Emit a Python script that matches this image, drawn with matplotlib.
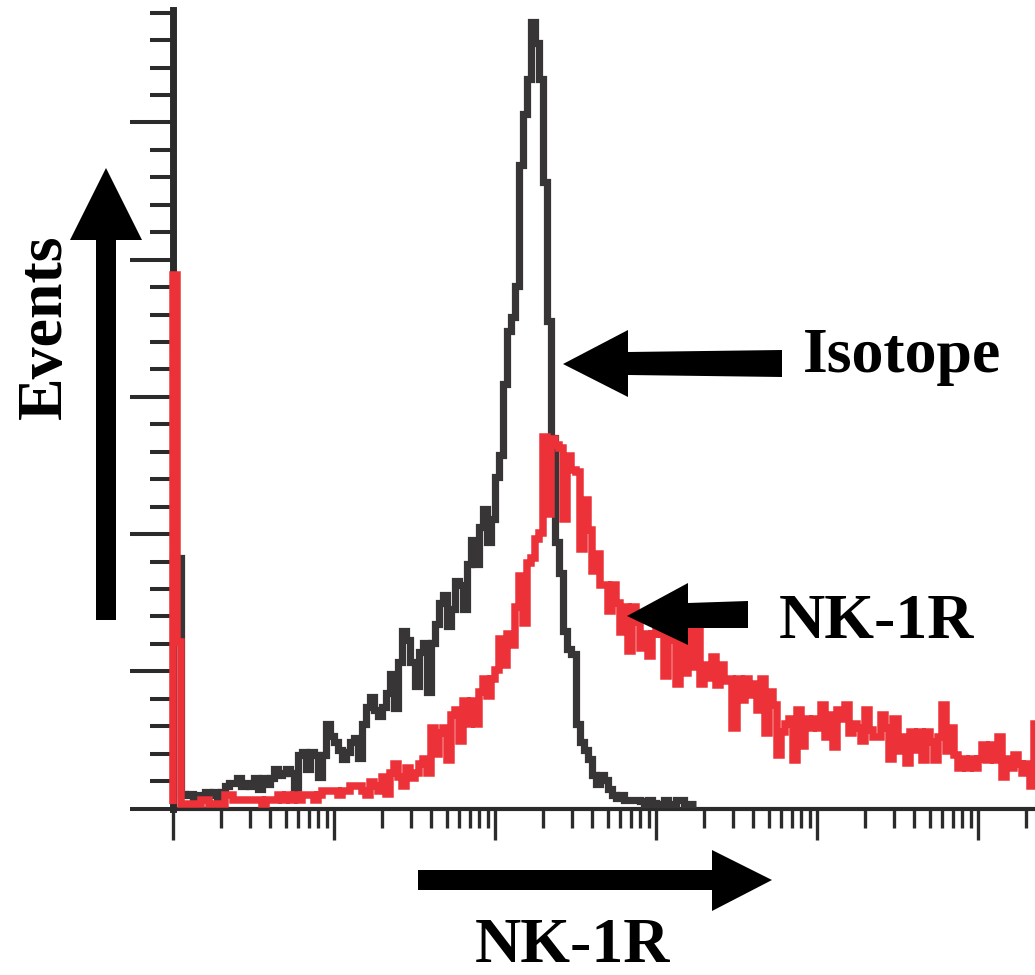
import numpy as np
import matplotlib
matplotlib.use("Agg")
import matplotlib.pyplot as plt
from matplotlib.ticker import LogLocator, MultipleLocator, NullFormatter
from matplotlib.patches import Polygon

# ---------------- data (events per channel, 40 channels per decade) ----------------
bins_per_decade = 40

isotype_counts = [
    90, 90, 4, 3.3, 4, 1.5, 3.3, 3.3, 4.7, 3.3,
    4.7, 2.2, 4.7, 6.6, 8, 8, 9.8, 6.6, 8, 6.6,
    9.8, 5.5, 9.8, 7.3, 9.8, 13.1, 10.9, 11.3, 13.1, 11.3,
    5.1, 17.9, 19.3, 13.1, 19.3, 17.9, 10.2, 18.2, 29.2, 24.8,
    22.6, 20, 16.4, 19.3, 22.6, 24.4, 17.1, 29.2, 35.7, 39,
    34.3, 32.4, 35.7, 40.8, 47.4, 35, 52.1, 63.4, 60.1, 52.1,
    43, 55.4, 58.7, 41, 58.7, 65.6, 73.3, 76.5, 64.9, 71.4,
    81.6, 79.8, 71.4, 87.8, 96.2, 87.5, 101, 107.5, 95.5, 104.2,
    119.2, 127.2, 153.4, 172.7, 177.8, 189.1, 233.2, 251.5, 264.2, 285.3,
    277.3, 264.2, 226.7, 176, 133.7, 95.5, 84.5, 63.4, 56.5, 54.7,
    29.2, 22.6, 19.7, 16.4, 10.6, 7.3, 10.6, 9.1, 5.5, 3.3,
    2.2, 3.3, 1.5, 1.5, 1.5, 1.5, 1.1, 0, 1.8, 0.7,
    0, 0, 1.8, 0, 0, 1.8, 1.5, 0, 0, 0,
]

nk1r_counts = [
    193, 59.2, 0, 0, 0, 0, 0, 1.8, 1.8, 0,
    0, 0, 0, 3.5, 3.5, 1.8, 1.8, 1.8, 1.8, 1.8,
    1.8, 1.8, 0, 1.8, 1.8, 1.8, 3.5, 1.8, 3.5, 1.8,
    3.5, 1.8, 3.5, 3.5, 3.5, 1.8, 3.5, 4.9, 4.9, 4.9,
    4.9, 3.5, 4.9, 4.9, 6.7, 6.7, 6.7, 4.9, 3.5, 8.2,
    6.7, 4.9, 10, 4, 11.5, 14.8, 10, 6.7, 13.3, 9.7,
    11.5, 14.8, 16.6, 11.5, 27.9, 18.4, 26, 27.9, 16.2, 32.6,
    34.4, 23, 37.7, 29.3, 37.7, 29.3, 41, 45.7, 39.5, 45.7,
    49, 60.3, 51, 62, 58, 72, 83.3, 66, 88, 89.8,
    96.8, 98.9, 134, 106, 133, 131, 130, 104, 127, 122,
    121, 93, 111, 100, 85, 91.3, 80, 80, 70.5, 80,
    73.4, 63, 72, 56, 72, 66.5, 57, 62, 54, 62,
    66, 62, 47, 61, 60, 44, 60, 48, 64.7, 50,
    63.6, 44, 50.8, 46, 53.8, 43.5, 50.8, 45, 45.7, 27.9,
    45.7, 38, 45.7, 40, 44, 34.4, 45.7, 26, 41, 36.3,
    18, 26.4, 29.3, 31.2, 16.2, 34.4, 21.3, 31.2, 27.9, 31.2,
    28, 36.3, 24.6, 32.6, 21, 34.4, 31.2, 36.3, 26, 29.3,
    27.9, 23, 34.4, 27, 24.6, 24.6, 32.6, 27.9, 16.6, 31.2,
    19.5, 24.6, 15.1, 26.4, 20, 26.4, 16.2, 26.4, 22.8, 16.2,
    24.6, 36.3, 19.5, 27.9, 18, 13.3, 16.6, 13.3, 16.6, 13.3,
    16.6, 21.7, 16.2, 21.7, 16.2, 24.6, 10, 16.6, 13.3, 18,
    14.8, 11.5, 14.8, 6.7, 29.3,
]

x_label = "NK-1R"
y_label = "Events"
isotype_label = "Isotope"
nk1r_label = "NK-1R"

# ---------------- style ----------------
DARK = "#373535"
RED = "#ec3238"
AXIS = "#2b2b2b"
W, H = 1035, 975
FONT = dict(family=["Liberation Serif", "DejaVu Serif"], weight="bold", size=46, color="black")

fig = plt.figure(figsize=(W / 100, H / 100), dpi=100)
fig.patch.set_facecolor("white")
ax = fig.add_axes([173 / W, (H - 808.5) / H, (W - 173) / W, 798.5 / H])
ax.set_facecolor("none")

edges = 10 ** (np.arange(len(nk1r_counts) + 1) / bins_per_decade)
ax.stairs(isotype_counts, edges[: len(isotype_counts) + 1], baseline=0,
          edgecolor=DARK, linewidth=5.2, zorder=3, clip_on=False, joinstyle="miter")
ax.stairs(nk1r_counts, edges, baseline=0,
          edgecolor=RED, linewidth=5.4, zorder=4, clip_on=False, joinstyle="miter")

# axes
ax.set_xscale("log")
ax.set_xlim(1, 10 ** (862 / 161))
y0 = -1.46
ax.set_ylim(y0, 289.5)

ax.xaxis.set_major_locator(LogLocator(base=10, numticks=20))
ax.xaxis.set_minor_locator(LogLocator(base=10, subs=np.arange(2, 10), numticks=20))
ax.xaxis.set_major_formatter(NullFormatter())
ax.xaxis.set_minor_formatter(NullFormatter())
ax.yaxis.set_major_locator(MultipleLocator(50, offset=y0))
ax.yaxis.set_minor_locator(MultipleLocator(10, offset=y0))
ax.yaxis.set_major_formatter(NullFormatter())
ax.yaxis.set_minor_formatter(NullFormatter())

ax.tick_params(axis="x", which="major", length=22, width=2.4, color=AXIS, direction="out")
ax.tick_params(axis="x", which="minor", length=14, width=2.4, color=AXIS, direction="out")
ax.tick_params(axis="y", which="major", length=31.3, width=2.9, color=AXIS, direction="out")
ax.tick_params(axis="y", which="minor", length=16.9, width=2.9, color=AXIS, direction="out")

for s in ("top", "right"):
    ax.spines[s].set_visible(False)
ax.spines["left"].set_linewidth(5)
ax.spines["left"].set_color(AXIS)
ax.spines["bottom"].set_linewidth(3)
ax.spines["bottom"].set_color(AXIS)
ax.spines["left"].set_zorder(2.5)
ax.spines["bottom"].set_zorder(2.5)


# ---------------- annotations ----------------
def fig_pt(x, y):
    return (x / W, 1 - y / H)


def arrow(points):
    poly = Polygon([fig_pt(x, y) for x, y in points], closed=True,
                   transform=fig.transFigure, facecolor="black", edgecolor="none")
    fig.add_artist(poly)


# vertical "Events" arrow
arrow([(96, 620), (96, 240), (70, 240), (106, 168), (142, 240), (116, 240), (116, 620)])
# horizontal x-axis arrow
arrow([(418, 870), (712, 870), (712, 850), (772, 880), (712, 911), (712, 890), (418, 890)])
# Isotope pointer
arrow([(782, 350), (628, 352), (628, 330), (563, 364), (628, 397), (628, 375), (782, 377)])
# NK-1R pointer
arrow([(748, 601), (688, 603), (688, 583), (627, 616), (688, 645), (688, 628), (748, 628)])

fig.text(*fig_pt(61, 327), y_label, rotation=90, rotation_mode="anchor",
         ha="center", va="baseline", **FONT)
fig.text(*fig_pt(572, 962), x_label, ha="center", va="baseline", **FONT)
fig.text(*fig_pt(902, 372), isotype_label, ha="center", va="baseline", **FONT)
fig.text(*fig_pt(876, 638), nk1r_label, ha="center", va="baseline", **FONT)

fig.savefig("out.png", dpi=100, facecolor="white")
